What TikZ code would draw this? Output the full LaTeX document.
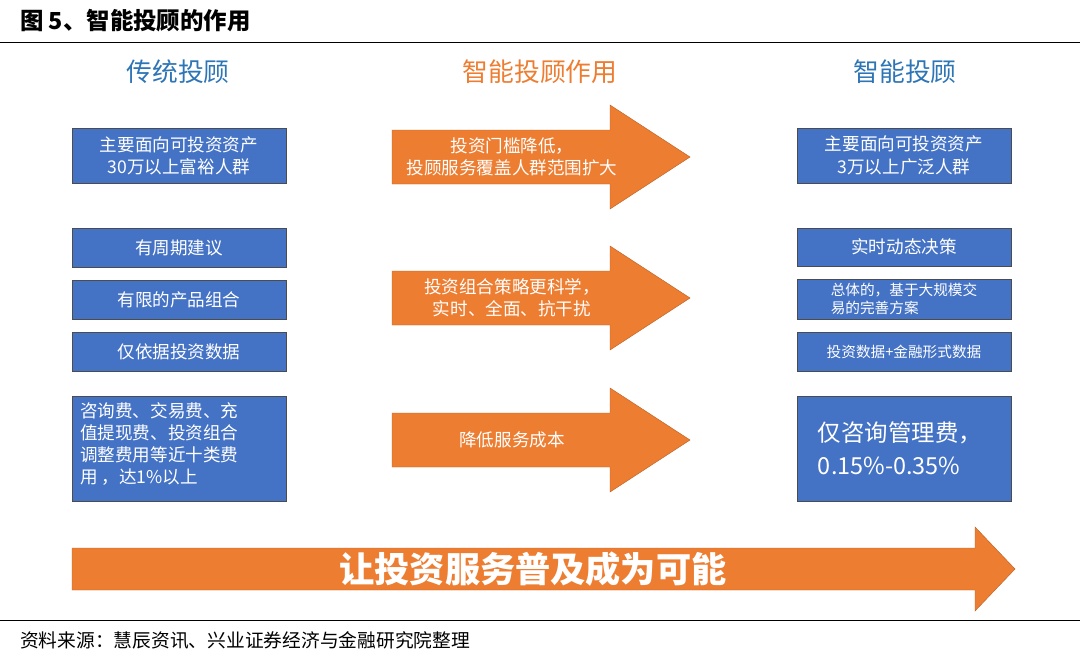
\documentclass[tikz,border=0pt]{standalone}
\usepackage{fontspec}
\setmainfont{Noto Sans CJK SC}
\definecolor{boxblue}{RGB}{68,114,196}
\definecolor{headblue}{RGB}{46,117,182}
\definecolor{arrorange}{RGB}{237,125,49}
\tikzset{
  bluebox/.style={draw=black!70, fill=boxblue, text=white, inner sep=3pt},
  headtxt/.style={font=\fontsize{22}{26}\selectfont},
  boxtxt/.style={text=white, font=\fontsize{15}{19}\selectfont, align=center},
  orarrow/.style={fill=arrorange, draw=arrorange!80!black}
}
\begin{document}
\begin{tikzpicture}[x=0.03cm,y=-0.03cm]
\useasboundingbox (0,0) rectangle (1080,664);
% title
\node[anchor=west, font=\fontsize{20}{24}\selectfont\bfseries] (title) at (16,21) {图 5、智能投顾的作用};
\draw (0,42) -- (1080,42);
% headers
\node[headtxt, text=headblue] (h1) at (178,72) {传统投顾};
\node[headtxt, text=arrorange] (h2) at (540,72) {智能投顾作用};
\node[headtxt, text=headblue] (h3) at (905,72) {智能投顾};
% left boxes
\draw[bluebox] (72,128) rectangle (286,183);
\node[boxtxt] (l1) at (179,155.5) {主要面向可投资资产\\30万以上富裕人群};
\draw[bluebox] (72,228) rectangle (286,267);
\node[boxtxt] (l2) at (179,247.5) {有周期建议};
\draw[bluebox] (72,280) rectangle (286,319);
\node[boxtxt] (l3) at (179,299.5) {有限的产品组合};
\draw[bluebox] (72,332) rectangle (286,371);
\node[boxtxt] (l4) at (179,351.5) {仅依据投资数据};
\draw[bluebox] (72,396) rectangle (286,501);
\node[boxtxt, align=left, anchor=north west] (l5) at (76,398) {咨询费、交易费、充\\值提现费、投资组合\\调整费用等近十类费\\用 ，达1\%以上};
% right boxes
\draw[bluebox] (797,128) rectangle (1011,183);
\node[boxtxt] (r1) at (904,155.5) {主要面向可投资资产\\3万以上广泛人群};
\draw[bluebox] (797,228) rectangle (1011,266);
\node[boxtxt] (r2) at (904,247) {实时动态决策};
\draw[bluebox] (797,279) rectangle (1011,319);
\node[boxtxt, align=left, font=\fontsize{12.5}{15}\selectfont] (r3) at (904,299) {总体的，基于大规模交\\易的完善方案};
\draw[bluebox] (797,332) rectangle (1011,371);
\node[boxtxt, font=\fontsize{12.5}{15}\selectfont] (r4) at (904,351.5) {投资数据+金融形式数据};
\draw[bluebox] (797,396) rectangle (1011,501);
\node[boxtxt, align=left, font=\fontsize{20}{28}\selectfont] (r5) at (900,448) {仅咨询管理费，\\ 0.15\%-0.35\%};
% orange arrows
\foreach \cy/\txt [count=\i] in {157/{投资门槛降低，\\投顾服务覆盖人群范围扩大}, 298/{投资组合策略更科学，\\实时、全面、抗干扰}, 440/{降低服务成本}}{
  \draw[orarrow] (392,\cy-27) -- (610,\cy-27) -- (610,\cy-52) -- (690,\cy) -- (610,\cy+52) -- (610,\cy+27) -- (392,\cy+27) -- cycle;
  \node[boxtxt] (a\i) at (512,\cy) {\txt};
}
% big arrow
\draw[orarrow] (72,548) -- (975,548) -- (975,527) -- (1015,569) -- (975,611) -- (975,590) -- (72,590) -- cycle;
\node[text=white, font=\fontsize{30}{34}\selectfont\bfseries] (big) at (533,569) {让投资服务普及成为可能};
% source
\draw (0,620) -- (1080,620);
\node[anchor=west, font=\fontsize{16}{20}\selectfont] (src) at (16,640) {资料来源：慧辰资讯、兴业证券经济与金融研究院整理};
\end{tikzpicture}
\end{document}
